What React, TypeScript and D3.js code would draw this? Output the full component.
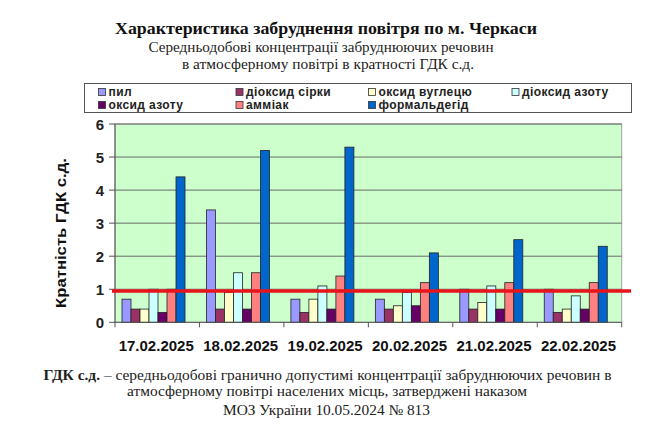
import React from "react";
import * as d3 from "d3";

const dates = ["17.02.2025", "18.02.2025", "19.02.2025", "20.02.2025", "21.02.2025", "22.02.2025"];
const seriesNames = ["пил", "діоксид сірки", "оксид вуглецю", "діоксид азоту", "оксид азоту", "аміак", "формальдегід"];
const legendLabels = ["пил", "діоксид сірки", "оксид вуглецю", "діоксид азоту", "оксид азоту", "аммiак", "формальдегід"];
const seriesColors = ["#9999FF", "#993366", "#FFFFCC", "#CCFFFF", "#660066", "#FF8080", "#0066CC"];

const pyl = [0.7, 3.4, 0.7, 0.7, 1.0, 1.0];
const dioksydSirky = [0.4, 0.4, 0.3, 0.4, 0.4, 0.3];
const oksydVuhletsiu = [0.4, 0.9, 0.7, 0.5, 0.6, 0.4];
const dioksydAzotu = [1.0, 1.5, 1.1, 0.9, 1.1, 0.8];
const oksydAzotu = [0.3, 0.4, 0.4, 0.5, 0.4, 0.4];
const amiak = [1.0, 1.5, 1.4, 1.2, 1.2, 1.2];
const formaldehid = [4.4, 5.2, 5.3, 2.1, 2.5, 2.3];
const seriesValues = [pyl, dioksydSirky, oksydVuhletsiu, dioksydAzotu, oksydAzotu, amiak, formaldehid];

const yTicks = [0, 1, 2, 3, 4, 5, 6];
const limitValue = 0.95;

const titleText = "Характеристика забруднення повітря по м. Черкаси";
const subtitle1 = "Середньодобові концентрації забруднюючих речовин";
const subtitle2 = "в атмосферному повітрі в кратності ГДК с.д.";
const yAxisTitle = "Кратність ГДК с.д.";
const footBold = "ГДК с.д.";
const foot1 = " – середньодобові гранично допустимі концентрації забруднюючих речовин в";
const foot2 = "атмосферному повітрі населених місць, затверджені наказом";
const foot3 = "МОЗ України 10.05.2024 № 813";

export default function App() {
  const W = 670, H = 434;
  const left = 115, right = 621.7, top = 124, bottom = 322.3;
  const y = d3.scaleLinear().domain([0, 6]).range([bottom, top]);
  const x0 = d3.scaleBand<string>().domain(dates).range([left, right]);
  const x1 = d3.scaleBand<string>().domain(seriesNames).range([0, 63]);
  const groupOffset = 7;
  const serif = "'Liberation Serif', 'Times New Roman', serif";
  const sans = "'Liberation Sans', Arial, sans-serif";
  const legendCols = [101.5, 239, 371.5, 515];
  const legendRows = [92, 105];
  const bounds = x0.domain().map((d) => x0(d)!).concat([right]);

  return (
    <svg width={W} height={H} style={{ position: "absolute", left: 0, top: 0, background: "#fff" }}>
      <rect x={0} y={0} width={W} height={H} fill="#fff" />
      {/* Titles */}
      <text x={115} y={34} fontFamily={serif} fontWeight="bold" fontSize={16} textLength={422} lengthAdjust="spacingAndGlyphs" fill="#111">{titleText}</text>
      <text x={148.5} y={52} fontFamily={serif} fontSize={14.5} textLength={345} lengthAdjust="spacingAndGlyphs" fill="#222">{subtitle1}</text>
      <text x={182} y={69} fontFamily={serif} fontSize={14.5} textLength={292} lengthAdjust="spacingAndGlyphs" fill="#222">{subtitle2}</text>

      {/* Legend */}
      <rect x={84.5} y={83.5} width={547} height={29} fill="#fff" stroke="#555" strokeWidth={1} />
      {legendLabels.map((lab, i) => {
        const col = legendCols[i % 4];
        const row = legendRows[Math.floor(i / 4)];
        return (
          <g key={lab}>
            <rect x={col - 3} y={row - 3.5} width={7} height={7} fill={seriesColors[i]} stroke="#333" strokeWidth={0.8} />
            <text x={col + 7} y={row + 4} fontFamily={sans} fontWeight="bold" fontSize={12} letterSpacing={0.4} fill="#222">{lab}</text>
          </g>
        );
      })}

      {/* Plot area */}
      <rect x={left} y={top} width={right - left} height={bottom - top} fill="#CCFFCC" stroke="#A0A0A0" strokeWidth={1} />
      {yTicks.filter((t) => t > 0).map((t) => (
        <line key={t} x1={left} x2={right} y1={y(t)} y2={y(t)} stroke="#6a6a6a" strokeWidth={1} />
      ))}

      {/* Bars */}
      {dates.map((d, di) => (
        <g key={d}>
          {seriesNames.map((s, si) => {
            const v = seriesValues[si][di];
            return (
              <rect
                key={s}
                x={x0(d)! + groupOffset + x1(s)!}
                y={y(v)}
                width={x1.bandwidth()}
                height={y(0) - y(v)}
                fill={seriesColors[si]}
                stroke="#222"
                strokeWidth={0.8}
              />
            );
          })}
        </g>
      ))}

      {/* Axes */}
      <line x1={left} x2={left} y1={top} y2={bottom} stroke="#555" strokeWidth={1} />
      <line x1={left} x2={right} y1={bottom} y2={bottom} stroke="#555" strokeWidth={1} />
      {yTicks.map((t) => (
        <g key={t}>
          <line x1={left - 6} x2={left} y1={y(t)} y2={y(t)} stroke="#555" strokeWidth={1} />
          <text x={104} y={y(t) + 5.5} textAnchor="end" fontFamily={sans} fontWeight="bold" fontSize={15} fill="#222">{t}</text>
        </g>
      ))}
      {bounds.map((bx, i) => (
        <line key={i} x1={bx} x2={bx} y1={bottom} y2={bottom + 5} stroke="#555" strokeWidth={1} />
      ))}
      {dates.map((d) => (
        <text key={d} x={x0(d)! + x0.bandwidth() / 2 - 1} y={351} textAnchor="middle" fontFamily={sans} fontWeight="bold" fontSize={15} fill="#111">{d}</text>
      ))}

      {/* Limit line */}
      <line x1={112} x2={631} y1={y(limitValue)} y2={y(limitValue)} stroke="#E8141B" strokeWidth={3.5} />

      {/* Y axis title */}
      <text transform={`translate(66,233) rotate(-90)`} textAnchor="middle" fontFamily={sans} fontWeight="bold" fontSize={14} textLength={150} lengthAdjust="spacingAndGlyphs" fill="#111">{yAxisTitle}</text>

      {/* Footer */}
      <text x={43.5} y={379.5} fontFamily={serif} fontSize={15} textLength={568} lengthAdjust="spacingAndGlyphs" fill="#222">
        <tspan fontWeight="bold">{footBold}</tspan>
        <tspan>{foot1}</tspan>
      </text>
      <text x={127} y={395.5} fontFamily={serif} fontSize={15} textLength={400} lengthAdjust="spacingAndGlyphs" fill="#222">{foot2}</text>
      <text x={223} y={415} fontFamily={serif} fontSize={15} textLength={207} lengthAdjust="spacingAndGlyphs" fill="#222">{foot3}</text>
    </svg>
  );
}
